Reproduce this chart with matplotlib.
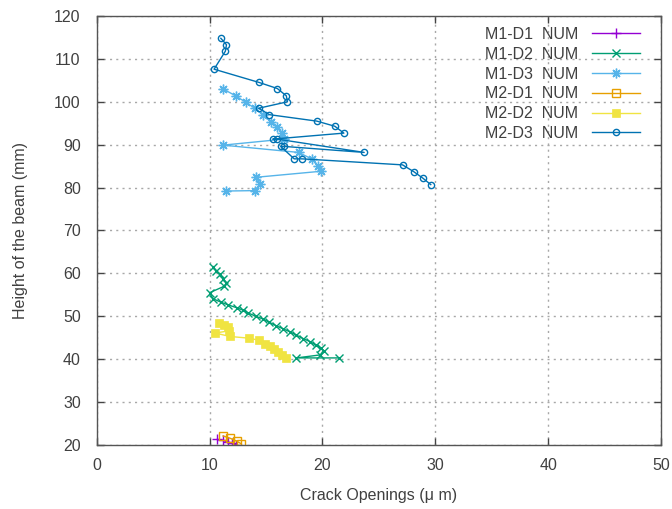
import matplotlib
matplotlib.use("Agg")
import matplotlib.pyplot as plt

plt.rcParams['font.family'] = ['Liberation Sans', 'DejaVu Sans']

# Crack opening (micrometres) versus height along the beam (mm)
m1_d1_x = [10.7, 11.2, 11.6, 12.0, 12.3]
m1_d1_y = [21.3, 21.1, 20.7, 20.4, 20.1]

m1_d2_x = [10.3, 10.6, 10.9, 11.2, 11.5, 11.3, 10.0, 10.3, 11.0, 11.6, 12.4, 13.0,
           13.4, 14.1, 14.7, 15.3, 15.9, 16.5, 17.1, 17.7, 18.3, 18.9, 19.4, 19.85,
           20.1, 19.8, 17.7, 21.5]
m1_d2_y = [61.6, 60.5, 59.8, 58.8, 57.8, 57.0, 55.5, 54.1, 53.3, 52.7, 52.0, 51.4,
           50.8, 50.0, 49.4, 48.6, 47.8, 47.1, 46.4, 45.6, 44.8, 44.1, 43.3, 42.6,
           42.0, 41.0, 40.3, 40.3]

m1_d3_x = [11.2, 12.3, 13.2, 14.0, 14.7, 15.4, 16.0, 16.4, 16.6, 11.2, 17.9, 19.1,
           19.6, 19.85, 14.1, 14.5, 14.0, 11.5]
m1_d3_y = [103.0, 101.4, 99.9, 98.5, 97.0, 95.4, 94.2, 92.7, 91.3, 89.9, 88.2, 86.6,
           85.1, 83.8, 82.4, 80.9, 79.3, 79.2]

m2_d1_x = [11.2, 11.8, 12.4, 12.8]
m2_d1_y = [22.1, 21.6, 20.9, 20.3]

m2_d2_x = [10.8, 11.3, 11.6, 11.7, 10.5, 11.8, 13.5, 14.4, 14.9, 15.35, 15.7, 16.1,
           16.4, 16.8]
m2_d2_y = [48.4, 48.0, 47.5, 46.6, 46.1, 45.3, 44.9, 44.4, 43.6, 43.0, 42.4, 41.7,
           41.0, 40.3]

m2_d3_x = [11.0, 11.5, 11.4, 10.4, 14.4, 16.0, 16.8, 16.9, 14.35, 15.3, 19.5, 21.1,
           21.9, 15.6, 16.0, 23.7, 16.6, 16.3, 17.5, 18.2, 27.1, 28.1, 28.9, 29.6]
m2_d3_y = [114.8, 113.3, 111.8, 107.6, 104.5, 103.1, 101.4, 100.0, 98.5, 97.0, 95.5,
           94.3, 92.7, 91.3, 91.3, 88.2, 89.6, 89.6, 86.7, 86.7, 85.3, 83.7, 82.2, 80.7]

labels = ["M1-D1  NUM", "M1-D2  NUM", "M1-D3  NUM",
          "M2-D1  NUM", "M2-D2  NUM", "M2-D3  NUM"]

x_ticks = [0, 10, 20, 30, 40, 50]
y_ticks = [20, 30, 40, 50, 60, 70, 80, 90, 100, 110, 120]

W, H = 672, 509
fig = plt.figure(figsize=(W / 100, H / 100), dpi=100)
ax = fig.add_axes([96.7 / W, 1 - 445 / H, (661 - 96.7) / W, (445 - 16) / H])

text_col = '#404040'
fs = 11.5

series = [
    (m1_d1_x, m1_d1_y, dict(color='#9400d3', marker='+', ms=7, mew=1.0)),
    (m1_d2_x, m1_d2_y, dict(color='#009e73', marker='x', ms=5.5, mew=1.0)),
    (m1_d3_x, m1_d3_y, dict(color='#56b4e9', marker=(8, 2, 0), ms=7, mew=1.0)),
    (m2_d1_x, m2_d1_y, dict(color='#e69f00', marker='s', ms=5.5, mfc='none', mew=1.0)),
    (m2_d2_x, m2_d2_y, dict(color='#f0e442', marker='s', ms=6, mew=0.5)),
    (m2_d3_x, m2_d3_y, dict(color='#0072b2', marker='o', ms=4.5, mfc='none', mew=1.0)),
]

handles = []
for (xs, ys, st), lab in zip(series, labels):
    h, = ax.plot(xs, ys, lw=1.0, label=lab, **st)
    handles.append(h)

ax.set_xlim(0, 50)
ax.set_ylim(20, 120)
ax.set_xticks(x_ticks)
ax.set_yticks(y_ticks)

ax.grid(True, color='#a8a8a8', linestyle=(0, (1.5, 3)), linewidth=1.0)
ax.set_axisbelow(True)

for sp in ax.spines.values():
    sp.set_color('#555555')
    sp.set_linewidth(1.0)

ax.tick_params(direction='in', top=True, right=True, length=5, width=1.0,
               color='#444444', labelcolor=text_col, labelsize=fs)
ax.tick_params(axis='y', pad=11.5)
ax.tick_params(axis='x', pad=9)

ax.set_xlabel('Crack Openings (\u03bc m)', fontsize=fs, color=text_col, labelpad=11)
ax.set_ylabel('Height of the beam (mm)', fontsize=fs, color=text_col, labelpad=19)

leg = ax.legend(handles=handles, loc='upper right', frameon=False, markerfirst=False,
                fontsize=fs, handlelength=3.0, handletextpad=0.85, labelspacing=0.30,
                borderpad=0, borderaxespad=0,
                bbox_to_anchor=(640 / W, 1 - 27 / H), bbox_transform=fig.transFigure)
for t in leg.get_texts():
    t.set_color(text_col)

fig.savefig('out.png', dpi=100)
